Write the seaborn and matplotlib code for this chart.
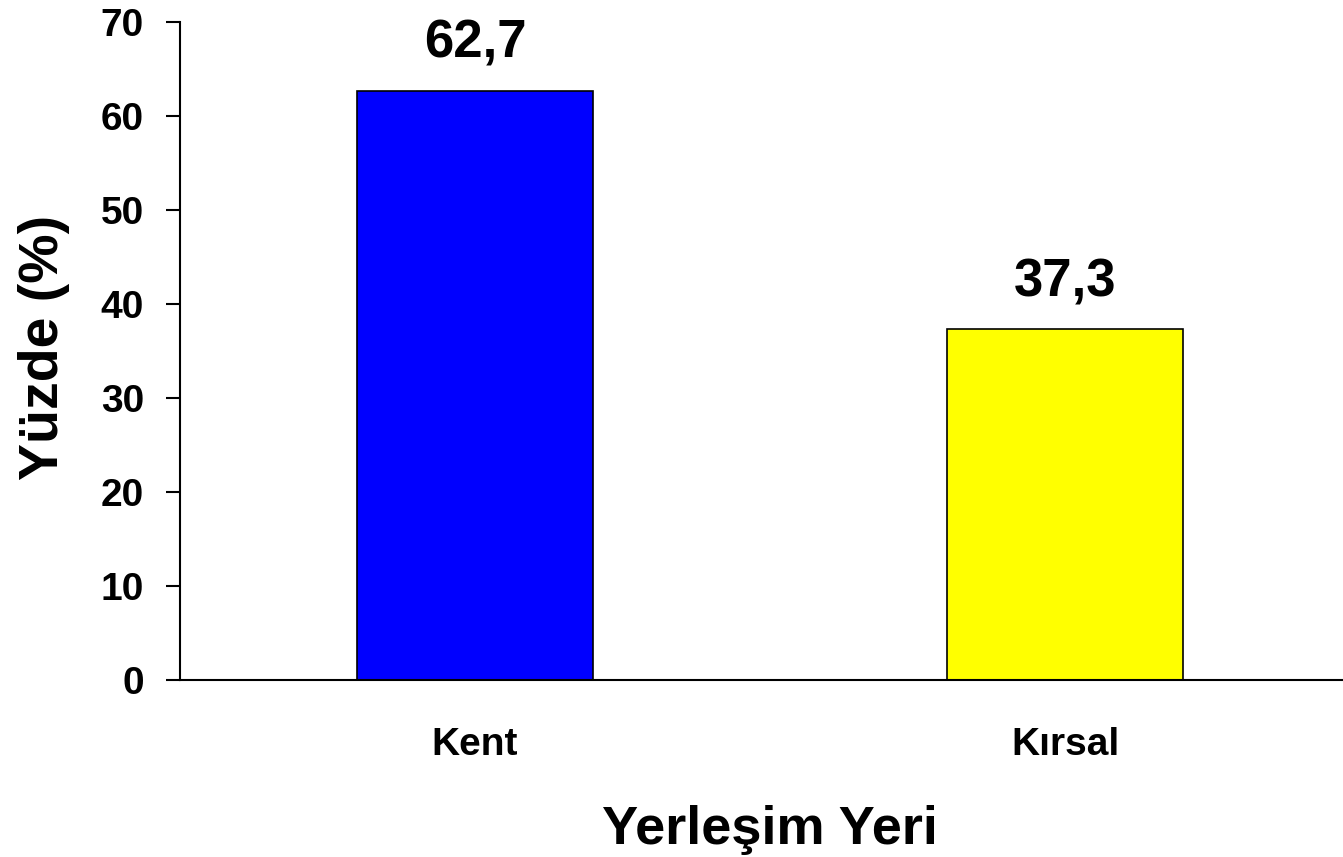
import matplotlib
matplotlib.use("Agg")
import matplotlib.pyplot as plt
import seaborn as sns
import pandas as pd

# === Data ===
categories = ["Kent", "Kırsal"]
values = [62.7, 37.3]
value_labels = ["62,7", "37,3"]
colors = ["#0000FF", "#FFFF00"]
yticks = [0, 10, 20, 30, 40, 50, 60, 70]

df = pd.DataFrame({"yer": categories, "yuzde": values})

# === Style ===
sns.set_theme(style="white")
plt.rcParams["font.family"] = ["Liberation Sans", "DejaVu Sans"]
plt.rcParams["font.weight"] = "bold"
plt.rcParams["text.color"] = "black"
plt.rcParams["axes.labelcolor"] = "black"
plt.rcParams["xtick.color"] = "black"
plt.rcParams["ytick.color"] = "black"

fig = plt.figure(figsize=(13.43, 8.57), dpi=100)
W, H = 1343, 857
ax = fig.add_axes([180 / W, (H - 680) / H, (W - 180) / W, (680 - 22) / H])

sns.barplot(data=df, x="yer", y="yuzde", hue="yer", palette=colors, width=0.4,
            edgecolor="black", linewidth=1.2, legend=False, ax=ax, saturation=1)

ax.set_xlim(-0.5, 1.471)
ax.set_ylim(0, 70)
ax.set_yticks(yticks)
ax.set_yticklabels([str(t) for t in yticks], fontsize=28, fontweight="bold")
ax.set_xticks(range(len(categories)))
ax.set_xticklabels(categories, fontsize=28, fontweight="bold")

ax.tick_params(axis="y", length=10, width=1.5, pad=16, colors="black", direction="out", left=True)
ax.tick_params(axis="x", length=0, pad=34, colors="black")

for side in ["top", "right"]:
    ax.spines[side].set_visible(False)
for side in ["left", "bottom"]:
    ax.spines[side].set_color("black")
    ax.spines[side].set_linewidth(1.5)

# value labels above bars
for i, (v, lab) in enumerate(zip(values, value_labels)):
    ax.annotate(lab, (i, v), xytext=(0, 16), textcoords="offset points",
                ha="center", va="bottom", fontsize=38, fontweight="bold", color="black")

ax.set_xlabel("Yerleşim Yeri", fontsize=39, fontweight="bold", color="black")
ax.set_ylabel("Yüzde (%)", fontsize=40, fontweight="bold", color="black")
ax.xaxis.set_label_coords(0.507, -0.19)
ax.yaxis.set_label_coords(-0.095, 0.505)

fig.savefig("out.png", dpi=100)
